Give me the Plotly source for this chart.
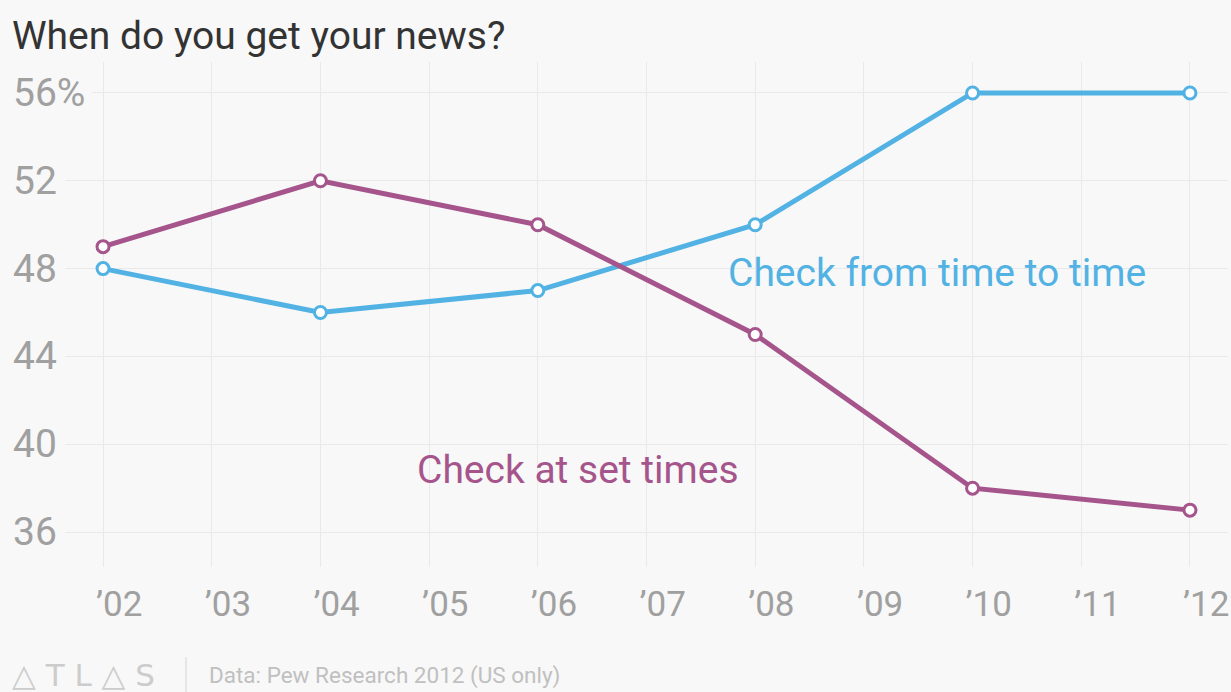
import plotly.graph_objects as go

years = [2002, 2004, 2006, 2008, 2010, 2012]
time_to_time = [48, 46, 47, 50, 56, 56]
set_times = [49, 52, 50, 45, 38, 37]
x_ticks = list(range(2002, 2013))
x_tick_labels = ["\u2019" + str(y)[2:] for y in x_ticks]
y_ticks = [36, 40, 44, 48, 52, 56]
y_tick_labels = ["36", "40", "44", "48", "52", "56%"]

BLUE = "#51b2e3"
PURPLE = "#a5558b"
BG = "#f8f8f8"
FONT = "Roboto"

W, H = 1231, 692
L, R, T, B = 65, 3, 62, 125
PW, PH = W - L - R, H - T - B


def px(xpix):
    return (xpix - L) / PW


def py(ypix):
    return (H - B - ypix) / PH


fig = go.Figure()
fig.add_trace(go.Scatter(
    x=years, y=time_to_time, mode="lines+markers",
    line=dict(color=BLUE, width=5),
    marker=dict(symbol="circle", size=12, color="white", line=dict(color=BLUE, width=3)),
    showlegend=False, cliponaxis=False))
fig.add_trace(go.Scatter(
    x=years, y=set_times, mode="lines+markers",
    line=dict(color=PURPLE, width=5),
    marker=dict(symbol="circle", size=12, color="white", line=dict(color=PURPLE, width=3)),
    showlegend=False, cliponaxis=False))

annotations = []
for v, t in zip(y_ticks, y_tick_labels):
    annotations.append(dict(
        x=px(6), xref="paper", y=v, yref="y", text=t, showarrow=False,
        xanchor="left", yanchor="middle", bgcolor=BG, borderpad=6,
        font=dict(family=FONT, size=39, color="#a0a0a0")))

annotations.append(dict(x=2007.73, y=47.8, xref="x", yref="y", text="Check from time to time",
                        showarrow=False, xanchor="left", yanchor="middle",
                        font=dict(family=FONT, size=39, color=BLUE)))
annotations.append(dict(x=2004.87, y=38.82, xref="x", yref="y", text="Check at set times",
                        showarrow=False, xanchor="left", yanchor="middle",
                        font=dict(family=FONT, size=39, color=PURPLE)))

annotations.append(dict(x=px(10), y=py(675), xref="paper", yref="paper",
                        text="\u25b3 T L \u25b3 S", showarrow=False, xanchor="left", yanchor="middle",
                        font=dict(family="DejaVu Sans", size=31, color="#cccccc")))
annotations.append(dict(x=px(207), y=py(675), xref="paper", yref="paper",
                        text="Data: Pew Research 2012 (US only)", showarrow=False,
                        xanchor="left", yanchor="middle",
                        font=dict(family=FONT, size=22.5, color="#c0c0c0")))

fig.update_layout(
    width=W, height=H,
    margin=dict(l=L, r=R, t=T, b=B, autoexpand=False),
    paper_bgcolor=BG, plot_bgcolor=BG,
    title=dict(text="When do you get your news?", x=12 / W, xanchor="left",
               y=1 - 35 / H, yanchor="middle",
               font=dict(family=FONT, size=39, color="#333333")),
    xaxis=dict(range=[2001.65, 2012.35], tickvals=x_ticks, ticktext=x_tick_labels,
               showgrid=True, gridcolor="#e9e9e9", gridwidth=1, zeroline=False,
               showline=False, ticks="", ticklabelposition="outside right",
               ticklabeloverflow="allow", automargin=False, ticklabelshift=-7,
               tickfont=dict(family=FONT, size=35, color="#a0a0a0"),
               ticklabelstandoff=13, fixedrange=True),
    yaxis=dict(range=[34.41, 57.41], tickvals=y_ticks, showticklabels=False,
               showgrid=True, gridcolor="#e9e9e9", gridwidth=1, zeroline=False,
               showline=False, ticks="", fixedrange=True, automargin=False),
    annotations=annotations,
)

fig.add_shape(type="line", xref="paper", yref="paper", x0=px(186), x1=px(186),
              y0=py(657), y1=py(692), line=dict(color="#d5d5d5", width=1))

fig.write_html("out.html")
